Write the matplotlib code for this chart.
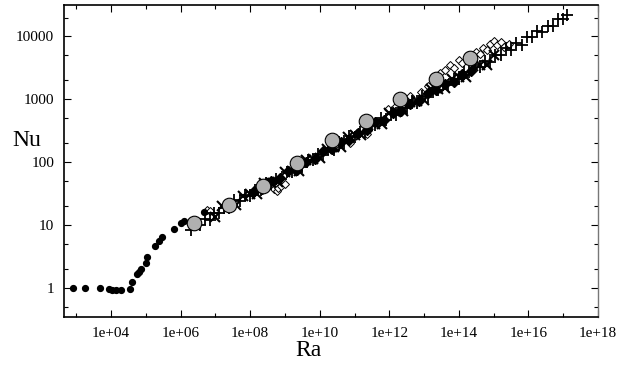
import numpy as np
import matplotlib
matplotlib.use("Agg")
import matplotlib.pyplot as plt
from matplotlib.ticker import FixedLocator, FixedFormatter, NullFormatter

# ---- data (log10 values) ----
# small filled black circles (low Ra)
dot_log_ra = [2.92, 3.25, 3.68, 3.95, 4.02, 4.14, 4.29, 4.55, 4.60, 4.76, 4.82, 4.87,
              5.00, 5.03, 5.27, 5.39, 5.47, 5.82, 6.01, 6.11, 6.68]
dot_nu = [1.0, 1.0, 1.02, 0.97, 0.95, 0.94, 0.95, 0.96, 1.26, 1.69, 1.84, 2.0,
          2.5, 3.1, 4.7, 5.6, 6.5, 8.9, 11.0, 11.9, 16.2]

# large grey circles
big_log_ra = [6.38, 7.38, 8.36, 9.35, 10.34, 11.33, 12.31, 13.34, 14.33]
big_log_nu = [1.03, 1.32, 1.63, 1.99, 2.35, 2.66, 3.00, 3.32, 3.66]

# plus markers (main band)
plus_log_ra = [6.30, 6.45, 6.55, 6.70, 6.85, 6.95, 7.10, 7.25, 7.40, 7.55, 7.70, 7.85,
               8.00, 8.15, 8.30, 8.45, 8.60, 8.75, 8.90, 9.05, 9.20, 9.35, 9.50, 9.65,
               9.80, 9.95, 10.10, 10.25, 10.40, 10.55, 10.70, 10.85, 11.00, 11.15, 11.30,
               11.45, 11.60, 11.75, 11.90, 12.05, 12.20, 12.35, 12.50, 12.65, 12.80, 12.95,
               13.10, 13.25, 13.40, 13.55, 13.70, 13.85, 14.00, 14.15, 14.30, 14.45, 14.60,
               14.75, 14.90, 15.05, 15.20, 15.35, 15.50, 15.65, 15.80, 15.95, 16.10, 16.25,
               16.40, 16.55, 16.70, 16.85, 17.00, 17.10]
plus_log_nu = [0.92, 1.03, 1.01, 1.10, 1.09, 1.20, 1.19, 1.28, 1.27, 1.40, 1.38, 1.48,
               1.46, 1.56, 1.56, 1.68, 1.66, 1.74, 1.74, 1.85, 1.85, 1.93, 1.92, 2.04,
               2.03, 2.14, 2.12, 2.21, 2.20, 2.32, 2.31, 2.42, 2.40, 2.49, 2.48,
               2.60, 2.59, 2.70, 2.68, 2.77, 2.76, 2.87, 2.87, 2.98, 2.95, 3.05,
               3.04, 3.15, 3.15, 3.26, 3.23, 3.33, 3.32, 3.43, 3.43, 3.54, 3.51,
               3.61, 3.60, 3.71, 3.71, 3.81, 3.79, 3.89, 3.87, 3.99, 3.99, 4.09,
               4.07, 4.17, 4.16, 4.27, 4.28, 4.34]

# x markers (band)
cross_log_ra = [7.0, 7.2, 7.4, 7.6, 7.8, 8.0, 8.2, 8.4, 8.6, 8.8, 9.0, 9.2, 9.4, 9.6,
                9.8, 10.0, 10.2, 10.4, 10.6, 10.8, 11.0, 11.2, 11.4, 11.6, 11.8, 12.0,
                12.2, 12.4, 12.6, 12.8, 13.0, 13.2, 13.4, 13.6, 13.8, 14.0, 14.2, 14.4,
                14.6, 14.8, 15.0]
cross_log_nu = [1.13, 1.30, 1.31, 1.32, 1.47, 1.50, 1.50, 1.67, 1.68, 1.69, 1.85, 1.87,
                1.87, 2.04, 2.05, 2.07, 2.22, 2.24, 2.24, 2.41, 2.43, 2.44, 2.59, 2.61,
                2.61, 2.79, 2.80, 2.81, 2.96, 2.98, 2.99, 3.16, 3.17, 3.18, 3.33, 3.36,
                3.36, 3.53, 3.54, 3.55, 3.71]

# filled diamonds (dense band)
fdia_log_ra = [8.1, 8.35, 8.6, 8.85, 9.1, 9.35, 9.6, 9.85, 10.1, 10.35, 10.6, 10.85,
               11.1, 11.35, 11.6, 11.85, 12.1, 12.35, 12.6, 12.85, 13.1, 13.35, 13.6,
               13.85, 14.1, 14.35]
fdia_log_nu = [1.55, 1.58, 1.71, 1.75, 1.86, 1.88, 2.00, 2.05, 2.18, 2.21, 2.32, 2.35,
               2.47, 2.52, 2.64, 2.68, 2.79, 2.82, 2.93, 2.98, 3.11, 3.15, 3.25,
               3.28, 3.40, 3.45]

# open symbols (scattered)
open_log_ra = [6.75, 6.85, 8.70, 8.78, 8.80, 8.90, 9.00, 10.47, 10.87, 11.37, 11.96,
               12.20, 12.60, 12.90, 13.10, 13.30, 13.45, 13.60, 13.75, 13.85, 14.00,
               14.10, 14.25, 14.40, 14.50, 14.60, 14.70, 14.80, 14.90, 15.00, 15.10,
               15.20, 15.30, 15.45]
open_log_nu = [1.25, 1.22, 1.57, 1.54, 1.60, 1.62, 1.66, 2.30, 2.31, 2.45, 2.85,
               2.90, 3.05, 3.12, 3.22, 3.30, 3.42, 3.47, 3.55, 3.50, 3.62,
               3.58, 3.70, 3.66, 3.76, 3.72, 3.82, 3.78, 3.88, 3.93, 3.86,
               3.91, 3.84, 3.88]

x_tick_exps = [4, 6, 8, 10, 12, 14, 16, 18]
x_tick_labels = ["1e+04", "1e+06", "1e+08", "1e+10", "1e+12", "1e+14", "1e+16", "1e+18"]
y_ticks = [1, 10, 100, 1000, 10000]
y_tick_labels = ["1", "10", "100", "1000", "10000"]

# ---- plot ----
plt.rcParams['font.family'] = ['Liberation Serif', 'DejaVu Serif']
fig = plt.figure(figsize=(6.23, 3.68), dpi=100)
ax = fig.add_axes([0.1027, 0.1386, 0.8573, 0.8478])

p = lambda v: np.power(10.0, np.asarray(v))

ax.plot(p(open_log_ra), p(open_log_nu), linestyle='none', marker='D', ms=3.6,
        mfc='white', mec='black', mew=0.7, zorder=2)
ax.plot(p(plus_log_ra), p(plus_log_nu), linestyle='none', marker='+', ms=8,
        color='black', mew=1.3, zorder=3)
ax.plot(p(cross_log_ra), p(cross_log_nu), linestyle='none', marker='x', ms=7,
        color='black', mew=1.5, zorder=3)
ax.plot(p(fdia_log_ra), p(fdia_log_nu), linestyle='none', marker='D', ms=5.5,
        color='black', zorder=3)
ax.plot(p(dot_log_ra), dot_nu, linestyle='none', marker='o', ms=4.2,
        color='black', zorder=4)
ax.plot(p(big_log_ra), p(big_log_nu), linestyle='none', marker='o', ms=10.5,
        mfc='#b0b0b0', mec='black', mew=0.8, zorder=5)

ax.set_xscale('log')
ax.set_yscale('log')
ax.set_xlim(10 ** 2.65, 1e18)
ax.set_ylim(0.35, 10 ** 4.5)

ax.xaxis.set_major_locator(FixedLocator([10.0 ** e for e in x_tick_exps]))
ax.xaxis.set_major_formatter(FixedFormatter(x_tick_labels))
ax.xaxis.set_minor_locator(FixedLocator([10.0 ** e for e in range(3, 18, 2)]))
ax.xaxis.set_minor_formatter(NullFormatter())
ax.yaxis.set_major_locator(FixedLocator(y_ticks))
ax.yaxis.set_major_formatter(FixedFormatter(y_tick_labels))
ax.yaxis.set_minor_locator(FixedLocator([0.5, 2, 5, 20, 50, 200, 500, 2000, 5000, 20000]))
ax.yaxis.set_minor_formatter(NullFormatter())

ax.tick_params(which='both', direction='in', top=True, right=True, labelsize=11,
               colors='black', width=0.8)
ax.tick_params(which='major', length=5, pad=7)
ax.tick_params(which='minor', length=3)

for s in ['left', 'bottom', 'top']:
    ax.spines[s].set_linewidth(1.2)
    ax.spines[s].set_color('black')
ax.spines['right'].set_linewidth(1.0)
ax.spines['right'].set_color('#777777')

fig.text(27 / 623, 1 - 140 / 368, "Nu", fontsize=17, ha='center', va='center')
fig.text(308 / 623, 1 - 351 / 368, "Ra", fontsize=17, ha='center', va='center')

fig.savefig("out.png", dpi=100)
